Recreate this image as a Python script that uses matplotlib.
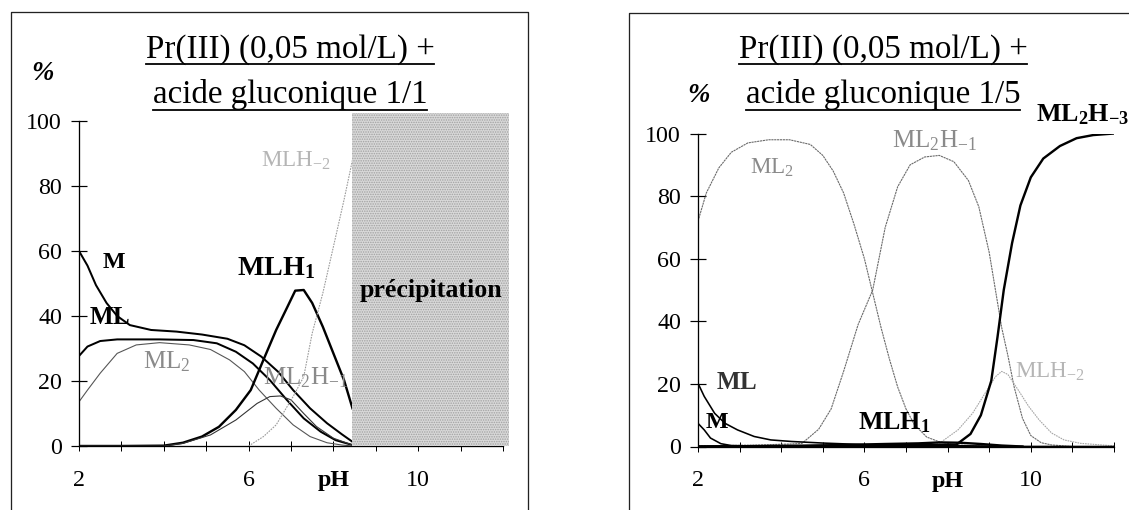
import matplotlib
matplotlib.use('Agg')
import matplotlib.pyplot as plt
from matplotlib.lines import Line2D

# ---------------- data: left panel (Pr(III) + acide gluconique 1/1) ----------------
pH_M_11 = [2, 2.2, 2.4, 2.65, 2.9, 3.2, 3.7, 4.3, 4.9, 5.5, 5.9, 6.3, 6.7, 7.05, 7.45, 7.85, 8.2, 8.45]
M_11 = [60, 55.5, 49.5, 44, 40, 37.2, 35.7, 35.2, 34.3, 33, 31, 27.5, 22.8, 17.2, 11.6, 7, 3.6, 1.3]

pH_ML_11 = [2, 2.2, 2.5, 2.9, 3.9, 4.7, 5.25, 5.7, 6.1, 6.5, 6.9, 7.3, 7.7, 8.05, 8.45]
ML_11 = [27.7, 30.6, 32.3, 32.8, 32.8, 32.6, 31.6, 29, 25.4, 20.3, 14.2, 8.5, 4.4, 1.8, 0.3]

pH_ML2_11 = [2, 2.2, 2.5, 2.9, 3.35, 3.9, 4.6, 5.1, 5.55, 5.9, 6.25, 6.65, 7.05, 7.45, 7.85, 8.2, 8.45]
ML2_11 = [13.6, 17.2, 22.4, 28.5, 31.1, 31.8, 31.1, 29.7, 26.5, 22.9, 17.2, 11.6, 6.5, 2.9, 1.0, 0.3, 0]

pH_MLH1_11 = [2, 3, 4, 4.45, 4.9, 5.3, 5.7, 6.05, 6.35, 6.65, 6.9, 7.1, 7.3, 7.5, 7.75, 8.0, 8.25, 8.45]
MLH1_11 = [0, 0, 0.1, 1, 2.9, 5.9, 11.1, 17.2, 26.5, 35.7, 42.4, 47.8, 48, 44, 36.7, 28.5, 20.3, 11.6]

pH_ML2H1_11 = [2, 4, 4.45, 5.1, 5.7, 6.2, 6.5, 6.75, 7.0, 7.3, 7.6, 8.0, 8.45]
ML2H1_11 = [0, 0, 0.8, 3.4, 8, 13.1, 15.2, 15.4, 14.2, 10, 6, 2.4, 0.3]

pH_MLHm2_11 = [6.0, 6.35, 6.65, 7.05, 7.3, 7.5, 7.75, 8.0, 8.25, 8.45]
MLHm2_11 = [0, 2.9, 6.5, 15.2, 21.3, 34.7, 47, 61.3, 75.7, 88]

precip_range = (8.45, 12.15)

# ---------------- data: right panel (Pr(III) + acide gluconique 1/5) ----------------
pH_M_15 = [2, 2.15, 2.3, 2.55, 2.8, 3.5, 12]
M_15 = [7.4, 5.3, 2.7, 0.9, 0.3, 0.1, 0]

pH_ML_15 = [2, 2.15, 2.4, 2.65, 2.95, 3.35, 3.75, 4.25, 5.0, 6.0, 8.0, 9.5]
ML_15 = [20.2, 16, 10.6, 7.4, 5.3, 3.2, 2.1, 1.6, 1.1, 0.6, 0.3, 0]

pH_ML2_15 = [2, 2.2, 2.5, 2.8, 3.2, 3.7, 4.2, 4.7, 5.0, 5.25, 5.5, 5.75, 6.0, 6.2, 6.4,
             6.6, 6.8, 7.0, 7.2, 7.5, 7.8, 8.2, 9.0]
ML2_15 = [72, 81, 89, 94, 97, 98, 98, 96.5, 93, 88, 81, 71, 60, 49, 38,
          28, 19, 12, 7, 3, 1.5, 0.5, 0]

pH_ML2H1_15 = [2, 3.5, 4.2, 4.5, 4.9, 5.2, 5.5, 5.85, 6.2, 6.5, 6.8, 7.1, 7.45, 7.8, 8.15,
               8.5, 8.75, 9.0, 9.15, 9.3, 9.45, 9.6, 9.8, 10.0, 10.25, 10.5, 11]
ML2H1_15 = [0.2, 0.5, 0.8, 1, 5.5, 12, 24, 39, 50, 70, 83, 90, 92.5, 93, 91,
            85, 76.6, 62, 50, 38, 29, 19, 9, 3.5, 1.2, 0.5, 0]

pH_ML2Hm3_15 = [2, 8.2, 8.55, 8.8, 9.05, 9.2, 9.35, 9.55, 9.75, 10.0, 10.3, 10.7, 11.1, 11.5, 12]
ML2Hm3_15 = [0, 0.5, 4, 10, 21, 35, 50, 65, 77, 86, 92, 96, 98.5, 99.5, 100]

pH_MLHm2_15 = [7.5, 7.8, 8.25, 8.6, 8.9, 9.15, 9.3, 9.45, 9.7, 9.95, 10.2, 10.5, 10.8, 11.2, 12]
MLHm2_15 = [0, 1, 5.3, 10.6, 17, 22.3, 24, 23, 18, 12.8, 8.5, 4.3, 2.1, 1, 0.2]

pH_MLH1_15 = [2, 4.5, 5.5, 6.5, 7.3, 7.8, 8.3, 8.8, 9.3, 9.8]
MLH1_15 = [0, 0.2, 0.5, 0.8, 1.0, 1.3, 1.2, 0.8, 0.3, 0]

x_ticks = list(range(2, 13))
x_ticklabels = ['2', '', '', '', '6', '', 'pH', '', '10', '', '']
y_ticks = [0, 20, 40, 60, 80, 100]
title_line1 = 'Pr(III) (0,05 mol/L) +'
title_left_line2 = 'acide gluconique 1/1'
title_right_line2 = 'acide gluconique 1/5'

# ---------------- figure ----------------
W, H, DPI = 1129, 510, 72
plt.rcParams['font.family'] = ['Liberation Serif', 'DejaVu Serif']
plt.rcParams['mathtext.fontset'] = 'custom'
plt.rcParams['mathtext.rm'] = 'Liberation Serif'
plt.rcParams['mathtext.bf'] = 'Liberation Serif:bold'
plt.rcParams['mathtext.it'] = 'Liberation Serif:italic'

fig = plt.figure(figsize=(W / DPI, H / DPI), dpi=DPI)
fig.patch.set_facecolor('white')


def fx(px):
    return px / W


def fy(py):
    return 1 - py / H


def make_axes(x_left, x_right, y_top, y_bottom):
    ax = fig.add_axes([fx(x_left), fy(y_bottom), (x_right - x_left) / W, (y_bottom - y_top) / H])
    ax.set_xlim(2, 12)
    ax.set_ylim(0, 100)
    ax.patch.set_alpha(0)
    for s in ('top', 'right'):
        ax.spines[s].set_visible(False)
    for s in ('left', 'bottom'):
        ax.spines[s].set_linewidth(1.3)
        ax.spines[s].set_color('black')
    ax.set_xticks(x_ticks)
    ax.set_xticklabels(x_ticklabels)
    ax.set_yticks(y_ticks)
    ax.tick_params(axis='y', direction='inout', length=16, width=1.2, pad=9, labelsize=24)
    ax.tick_params(axis='x', direction='inout', length=10, width=1.0, pad=19, labelsize=24)
    for lab in ax.get_xticklabels():
        if lab.get_text() == 'pH':
            lab.set_fontweight('bold')
    return ax


# frames
fig.add_artist(Line2D([fx(11), fx(11), fx(528), fx(528)], [fy(520), fy(12), fy(12), fy(520)],
                      transform=fig.transFigure, color='#222222', lw=1.3))
fig.add_artist(Line2D([fx(629), fx(629), fx(1140)], [fy(520), fy(13), fy(13)],
                      transform=fig.transFigure, color='#222222', lw=1.3))

# ---- left panel ----
axL = make_axes(79, 503, 121, 446)
axL.axvspan(*precip_range, ymin=0, ymax=1.024, facecolor='#d9d9d9', edgecolor='#a0a0a0',
            hatch='.....', lw=0, clip_on=False, zorder=3)
axL.plot(pH_M_11, M_11, color='black', lw=2.0, zorder=2)
axL.plot(pH_ML_11, ML_11, color='black', lw=2.0, zorder=2)
axL.plot(pH_ML2_11, ML2_11, color='#555555', lw=1.1, zorder=2)
axL.plot(pH_MLH1_11, MLH1_11, color='black', lw=2.4, zorder=2)
axL.plot(pH_ML2H1_11, ML2H1_11, color='#333333', lw=1.1, zorder=2)
axL.plot(pH_MLHm2_11, MLHm2_11, color='#9a9a9a', lw=1.1, ls=(0, (1.5, 1)), zorder=2)

# ---- right panel ----
axR = make_axes(698, 1114, 133.5, 446.5)
axR.plot(pH_ML2_15, ML2_15, color='#6a6a6a', lw=1.1, ls=(0, (2, 0.6)), zorder=2)
axR.plot(pH_ML2H1_15, ML2H1_15, color='#6a6a6a', lw=1.1, ls=(0, (2, 0.6)), zorder=2)
axR.plot(pH_MLHm2_15, MLHm2_15, color='#a5a5a5', lw=1.1, ls=(0, (1.5, 0.8)), zorder=2)
axR.plot(pH_ML2Hm3_15, ML2Hm3_15, color='black', lw=2.4, zorder=2)
axR.plot(pH_ML_15, ML_15, color='black', lw=1.6, zorder=2)
axR.plot(pH_M_15, M_15, color='black', lw=1.6, zorder=2)
axR.plot(pH_MLH1_15, MLH1_15, color='black', lw=2.4, zorder=2)

# ---- titles (underlined) ----
titles = []
for cx, l2 in ((290, title_left_line2), (883, title_right_line2)):
    titles.append(fig.text(fx(cx), fy(50), title_line1, ha='center', va='center', fontsize=33))
    titles.append(fig.text(fx(cx), fy(95), l2, ha='center', va='center', fontsize=33))

# ---- % signs ----
fig.text(fx(43), fy(74), '%', ha='center', va='center', fontsize=27, style='italic', fontweight='bold')
fig.text(fx(699), fy(95), '%', ha='center', va='center', fontsize=27, style='italic', fontweight='bold')

# ---- species labels, left ----
fig.text(fx(114), fy(262), r'$\mathbf{M}$', ha='center', va='center', fontsize=24)
fig.text(fx(110), fy(318), r'$\mathbf{ML}$', ha='center', va='center', fontsize=25)
fig.text(fx(167), fy(362), r'$\mathrm{ML_2}$', ha='center', va='center', fontsize=25, color='#8a8a8a')
fig.text(fx(276), fy(268), r'$\mathbf{MLH_1}$', ha='center', va='center', fontsize=28)
fig.text(fx(305), fy(378), r'$\mathrm{ML_2H_{-1}}$', ha='center', va='center', fontsize=25, color='#8a8a8a')
fig.text(fx(296), fy(161), r'$\mathrm{MLH_{-2}}$', ha='center', va='center', fontsize=23, color='#b5b5b5')
fig.text(fx(431), fy(290), 'précipitation', ha='center', va='center', fontsize=26,
         fontweight='bold', zorder=5)

# ---- species labels, right ----
fig.text(fx(1083), fy(115), r'$\mathbf{ML_2H_{-3}}$', ha='center', va='center', fontsize=26)
fig.text(fx(934), fy(141), r'$\mathrm{ML_2H_{-1}}$', ha='center', va='center', fontsize=25, color='#8a8a8a')
fig.text(fx(772), fy(168), r'$\mathrm{ML_2}$', ha='center', va='center', fontsize=23, color='#8a8a8a')
fig.text(fx(737), fy(383), r'$\mathbf{ML}$', ha='center', va='center', fontsize=25, color='#333333')
fig.text(fx(717), fy(422), r'$\mathbf{M}$', ha='center', va='center', fontsize=24)
fig.text(fx(894), fy(423), r'$\mathbf{MLH_1}$', ha='center', va='center', fontsize=26)
fig.text(fx(1050), fy(372), r'$\mathrm{MLH_{-2}}$', ha='center', va='center', fontsize=23, color='#b5b5b5')

# underline titles
fig.canvas.draw()
r = fig.canvas.get_renderer()
for t in titles:
    bb = t.get_window_extent(r)
    y = bb.y0 + 1
    fig.add_artist(Line2D([bb.x0 / W, bb.x1 / W], [y / H, y / H], transform=fig.transFigure,
                          color='black', lw=1.8))

fig.savefig('out.png', dpi=DPI, facecolor='white')
